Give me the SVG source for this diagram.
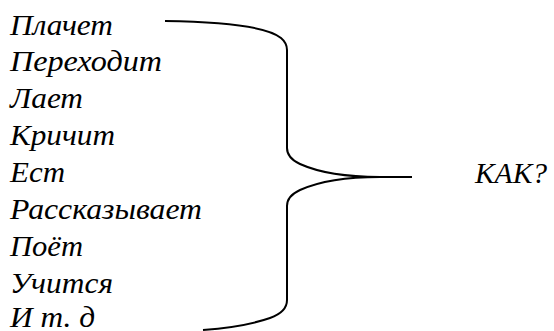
<svg xmlns="http://www.w3.org/2000/svg" width="554" height="331" viewBox="0 0 554 331">
<style>
.t{font-style:italic;font-size:30px;fill:#000}
.br{fill:none;stroke:#000;stroke-width:2}
</style>
<rect width="554" height="331" fill="#fff"/>
<g id="list" font-family="Liberation Serif, serif">
<text class="t" x="10" y="34.5" textLength="103" lengthAdjust="spacingAndGlyphs">Плачет</text>
<text class="t" x="10" y="71.4" textLength="152" lengthAdjust="spacingAndGlyphs">Переходит</text>
<text class="t" x="10" y="108.3" textLength="73" lengthAdjust="spacingAndGlyphs">Лает</text>
<text class="t" x="10" y="145.2" textLength="105" lengthAdjust="spacingAndGlyphs">Кричит</text>
<text class="t" x="10" y="182.1" textLength="55" lengthAdjust="spacingAndGlyphs">Ест</text>
<text class="t" x="10" y="219" textLength="192" lengthAdjust="spacingAndGlyphs">Рассказывает</text>
<text class="t" x="10" y="255.9" textLength="73" lengthAdjust="spacingAndGlyphs">Поёт</text>
<text class="t" x="10" y="292.8" textLength="103" lengthAdjust="spacingAndGlyphs">Учится</text>
<text class="t" x="10" y="327" textLength="85" lengthAdjust="spacingAndGlyphs">И т. д</text>
</g>
<g id="connectors">
<path class="br" d="M165,21 C230,22 268,27 281,38 Q287,43 287,50 L287,148 Q287,158 300,164 C320,173 350,177 380,177 L412,177 M380,177 C350,177 320,181 300,190 Q287,196 287,206 L287,300 Q287,312 270,318 C250,325 230,328 203,330"/>
</g>
<g id="kak" font-family="Liberation Serif, serif">
<text class="t" x="475" y="183" textLength="72" lengthAdjust="spacingAndGlyphs">КАК?</text>
</g>
</svg>
